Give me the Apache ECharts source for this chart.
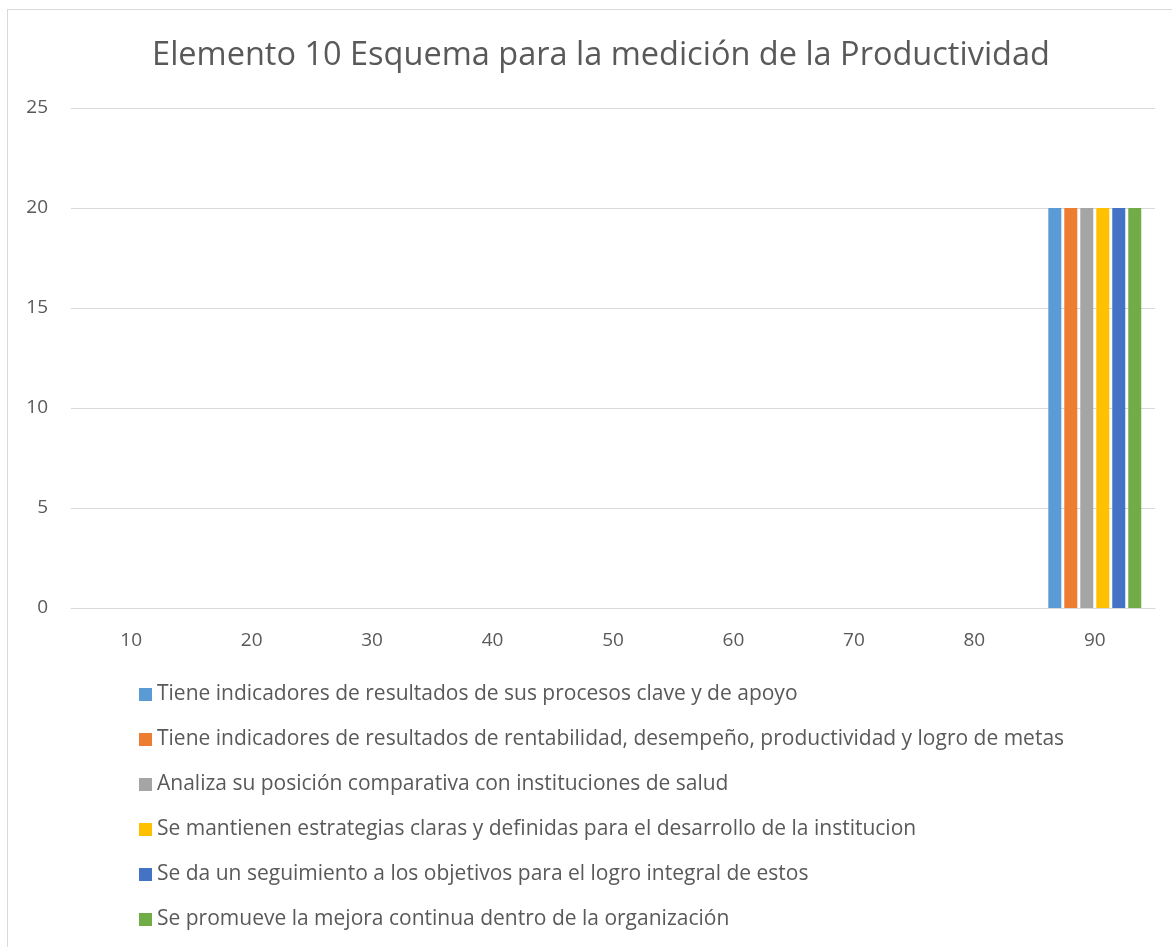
<!DOCTYPE html>
<html>
<head>
<meta charset="utf-8">
<script src="https://cdn.jsdelivr.net/npm/echarts@6/dist/echarts.min.js"></script>
<style>
  html, body { margin: 0; padding: 0; background: #fff; }
  #frame { position: absolute; left: 7px; top: 9px; width: 1170px; height: 950px; border: 1px solid #d9d9d9; box-sizing: border-box; }
  #main { position: absolute; left: 0; top: 0; width: 1172px; height: 947px; }
</style>
</head>
<body>
<div id="frame"></div>
<div id="main"></div>
<script>
  // datos
  var categorias = ['10', '20', '30', '40', '50', '60', '70', '80', '90'];
  var nombres = [
    'Tiene indicadores de resultados de sus procesos clave y de apoyo',
    'Tiene indicadores de resultados de rentabilidad, desempeño, productividad y logro de metas',
    'Analiza su posición comparativa con instituciones de salud',
    'Se mantienen estrategias claras y definidas para el desarrollo de la institucion',
    'Se da un seguimiento a los objetivos para el logro integral de estos',
    'Se promueve la mejora continua dentro de la organización'
  ];
  var procesosClave = [0, 0, 0, 0, 0, 0, 0, 0, 20];
  var rentabilidad = [0, 0, 0, 0, 0, 0, 0, 0, 20];
  var posicion = [0, 0, 0, 0, 0, 0, 0, 0, 20];
  var estrategias = [0, 0, 0, 0, 0, 0, 0, 0, 20];
  var seguimiento = [0, 0, 0, 0, 0, 0, 0, 0, 20];
  var mejora = [0, 0, 0, 0, 0, 0, 0, 0, 20];
  var valores = [procesosClave, rentabilidad, posicion, estrategias, seguimiento, mejora];
  var colores = ['#5B9BD5', '#ED7D31', '#A5A5A5', '#FFC000', '#4472C4', '#70AD47'];

  var fuente = 'Open Sans';
  var myChart = echarts.init(document.getElementById('main'));
  var series = nombres.map(function (n, i) {
    return {
      name: n,
      type: 'bar',
      data: valores[i],
      barWidth: 13,
      barGap: '23%',
      itemStyle: { color: colores[i] }
    };
  });

  var option = {
    animation: false,
    title: {
      text: 'Elemento 10 Esquema para la medición de la Productividad',
      left: 596,
      textAlign: 'center',
      top: 34,
      textStyle: { fontFamily: fuente, fontSize: 32.5, lineHeight: 34, fontWeight: 'normal', color: '#595959' }
    },
    legend: {
      orient: 'vertical',
      left: 134,
      top: 679,
      itemWidth: 13,
      itemHeight: 13,
      itemGap: 24,
      icon: 'rect',
      textStyle: { fontFamily: fuente, fontSize: 21, lineHeight: 20, color: '#595959' },
      data: nombres
    },
    grid: { left: 71, right: 17, top: 108, bottom: 339 },
    xAxis: {
      type: 'category',
      data: categorias,
      axisTick: { show: false },
      axisLine: { lineStyle: { color: '#d9d9d9' } },
      axisLabel: { fontFamily: fuente, fontSize: 19, color: '#595959', margin: 23 }
    },
    yAxis: {
      type: 'value',
      min: 0,
      max: 25,
      interval: 5,
      splitLine: { lineStyle: { color: '#d9d9d9' } },
      axisLabel: { fontFamily: fuente, fontSize: 19, color: '#595959', margin: 23 }
    },
    series: series
  };
  myChart.setOption(option);
</script>
</body>
</html>
